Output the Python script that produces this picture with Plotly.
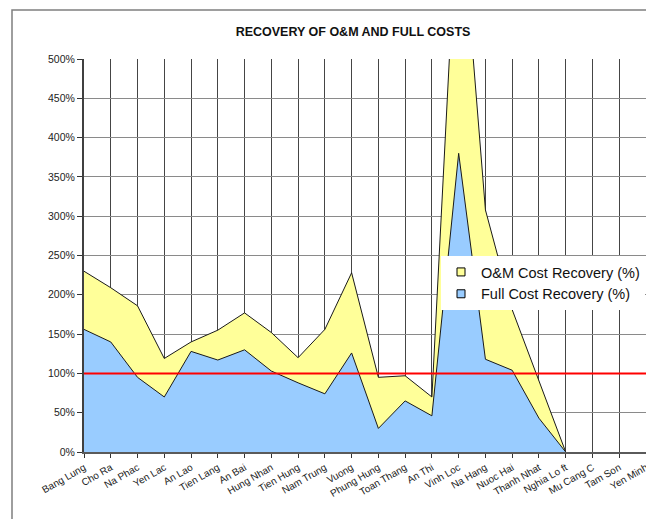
import plotly.graph_objects as go

categories = ["Bang Lung", "Cho Ra", "Na Phac", "Yen Lac", "An Lao", "Tien Lang", "An Bai",
              "Hung Nhan", "Tien Hung", "Nam Trung", "Vuong", "Phung Hung", "Toan Thang",
              "An Thi", "Vinh Loc", "Na Hang", "Nuoc Hai", "Thanh Nhat", "Nghia Lo ft",
              "Mu Cang C", "Tam Son", "Yen Minh"]

om_recovery = [230, 209, 186, 119, 140, 155, 177, 152, 120, 156, 228, 95, 97, 70, 730,
               308, 181, 90, 0, None, None, None]
full_recovery = [156, 140, 95, 70, 128, 117, 130, 103, 88, 74, 126, 30, 65, 46, 380,
                 118, 104, 43, 0, None, None, None]
target = [100] * len(categories)

FONT = "Liberation Sans, Arial, sans-serif"
YELLOW = "#FFFF99"
BLUE = "#99CCFF"

# page body has an 8px margin: figure is sized to fit the window exactly
W, H = 646, 511
L, R, T, B = 76, 8, 51, 67
PW, PH = W - L - R, H - T - B


def px_x(x):  # window x -> paper x
    return (x - 8 - L) / PW


def px_y(y):  # window y -> paper y
    return (H - B - (y - 8)) / PH


fig = go.Figure()
fig.add_trace(go.Scatter(x=categories, y=om_recovery, mode="lines", fill="tozeroy",
                         fillcolor=YELLOW, line=dict(color="#1a1a1a", width=1),
                         showlegend=False, connectgaps=False))
fig.add_trace(go.Scatter(x=categories, y=full_recovery, mode="lines", fill="tozeroy",
                         fillcolor=BLUE, line=dict(color="#1a1a1a", width=1),
                         showlegend=False, connectgaps=False))
fig.add_trace(go.Scatter(x=categories, y=target, mode="lines",
                         line=dict(color="#FF0000", width=2), showlegend=False))
# legend entries
fig.add_trace(go.Scatter(x=[None], y=[None], mode="markers", name="O&M Cost Recovery (%)",
                         marker=dict(symbol="square", size=8, color=YELLOW,
                                     line=dict(color="#000", width=1))))
fig.add_trace(go.Scatter(x=[None], y=[None], mode="markers", name="Full Cost Recovery (%)",
                         marker=dict(symbol="square", size=8, color=BLUE,
                                     line=dict(color="#000", width=1))))

fig.update_layout(
    width=W, height=H,
    margin=dict(l=L, r=R, t=T, b=B, autoexpand=False),
    paper_bgcolor="white", plot_bgcolor="white",
    font=dict(family=FONT, color="#222"),
    title=dict(text="<b>RECOVERY OF O&M AND FULL COSTS</b>", x=px_x(353),
               xref="paper", xanchor="center", y=1 - (32 - 8) / H, yanchor="middle",
               font=dict(size=12.5, family=FONT, color="#111")),
    legend=dict(x=px_x(441), y=px_y(256), xanchor="left", yanchor="top",
                bgcolor="white", borderwidth=0, font=dict(size=14.5, family=FONT, color="#111"),
                tracegroupgap=0),
    shapes=[dict(type="rect", xref="paper", yref="paper",
                 x0=px_x(12), x1=1.2, y0=-0.4, y1=px_y(10),
                 line=dict(color="#7f7f7f", width=1.5), fillcolor="rgba(0,0,0,0)",
                 layer="below")],
)
fig.update_xaxes(type="category", range=[0, len(categories) - 1], showgrid=True,
                 gridcolor="#454545", gridwidth=1, tickangle=-30, automargin=False,
                 tickfont=dict(size=10, family=FONT, color="#222"),
                 ticks="outside", ticklen=4, tickcolor="#333",
                 showline=True, linecolor="#5a5a5a", linewidth=2, zeroline=False)
fig.update_yaxes(range=[0, 500], dtick=50, ticksuffix="%", showgrid=True,
                 gridcolor="#8a8a8a", gridwidth=1, automargin=False,
                 tickfont=dict(size=10.5, family=FONT, color="#222"),
                 ticks="outside", ticklen=5, tickcolor="#333",
                 showline=True, linecolor="#404040", linewidth=2, zeroline=False)

fig.write_html("out.html")
